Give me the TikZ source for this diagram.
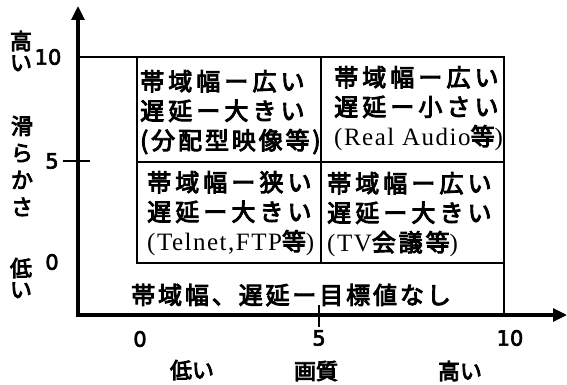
\documentclass[tikz,border=0pt]{standalone}
\usepackage{fontspec}
\usetikzlibrary{arrows.meta}
\newfontfamily\jpw[LetterSpace=17,BoldFont={Noto Sans CJK JP},BoldFeatures={FakeBold=4}]{Noto Sans CJK JP}
\newfontfamily\jpm[LetterSpace=12,BoldFont={Noto Sans CJK JP},BoldFeatures={FakeBold=4}]{Noto Sans CJK JP}
\newfontfamily\jpp[BoldFont={Noto Sans CJK JP},BoldFeatures={FakeBold=4}]{Noto Sans CJK JP}
\newfontfamily\serf[LetterSpace=6]{Liberation Serif}
\newfontfamily\numf[BoldFont={DejaVu Sans},BoldFeatures={FakeBold=3}]{DejaVu Sans}
\newcommand\sertxt[1]{{\fontsize{25}{29.5}\selectfont\serf\mdseries #1}}
\begin{document}
\begin{tikzpicture}[x=1pt,y=-1pt,
  axisline/.style={line width=3.2pt,-{Triangle[width=13pt,length=14pt]}},
  gridline/.style={line width=1.8pt},
  tickline/.style={line width=1.2pt},
  cell/.style={anchor=north west,inner sep=0pt,align=left,font=\fontsize{24}{29.5}\selectfont\jpw\bfseries},
  numlab/.style={inner sep=0pt,font=\fontsize{21}{21}\selectfont\numf\bfseries},
  vlab/.style={inner sep=0pt,align=center,font=\fontsize{22}{21.5}\selectfont\jpp\bfseries},
  xlab/.style={inner sep=0pt,font=\fontsize{22}{22}\selectfont\jpp\bfseries}]
\useasboundingbox (0,0) rectangle (567,385);
% grid
\draw[gridline] (78,57) -- (504,57) -- (504,315);
\draw[gridline] (137,57) -- (137,263) -- (504,263);
\draw[gridline] (137,162) -- (504,162);
\draw[gridline] (321,57) -- (321,263);
% axes
\draw[axisline] (78,317) -- (78,6);
\draw[axisline] (76,315) -- (567,315);
% ticks
\draw[tickline] (63,161) -- (90,161);
\draw[tickline] (319,305) -- (319,327);
% cells
\node[cell] (tl) at (140,70) {帯域幅ー広い\\遅延ー大きい\\{\jpm\bfseries(分配型映像等)}};
\node[cell] (tr) at (334,66) {帯域幅ー広い\\遅延ー小さい\\\sertxt{(Real Audio}{\jpp\bfseries 等}\sertxt{)}};
\node[cell] (bl) at (147,171) {帯域幅ー狭い\\遅延ー大きい\\\sertxt{(Telnet,FTP}{\jpp\bfseries 等}\sertxt{)}};
\node[cell] (br) at (327,172) {帯域幅ー広い\\遅延ー大きい\\\sertxt{(TV}{\jpm\bfseries 会議等}\sertxt{)}};
\node[inner sep=0pt,anchor=west,font=\fontsize{24}{24}\selectfont\jpm\bfseries] (none) at (131,295) {帯域幅、遅延ー目標値なし};
% y labels
\node[numlab] (y10) at (48,57) {10};
\node[numlab] (y5) at (52,161) {5};
\node[numlab] (y0) at (52,262) {0};
\node[vlab] (yhi) at (21,51) {高\\い};
\node[vlab,font=\fontsize{22}{27}\selectfont\jpp\bfseries] (ysm) at (22,166) {滑\\ら\\か\\さ};
\node[vlab] (ylo) at (21,278) {低\\い};
% x labels
\node[numlab] (x0) at (140,339) {0};
\node[numlab] (x5) at (319,338) {5};
\node[numlab] (x10) at (510,338) {10};
\node[xlab] (xlo) at (192,370) {低い};
\node[xlab] (xq) at (316,371) {画質};
\node[xlab] (xhi) at (460,371) {高い};
\end{tikzpicture}
\end{document}
